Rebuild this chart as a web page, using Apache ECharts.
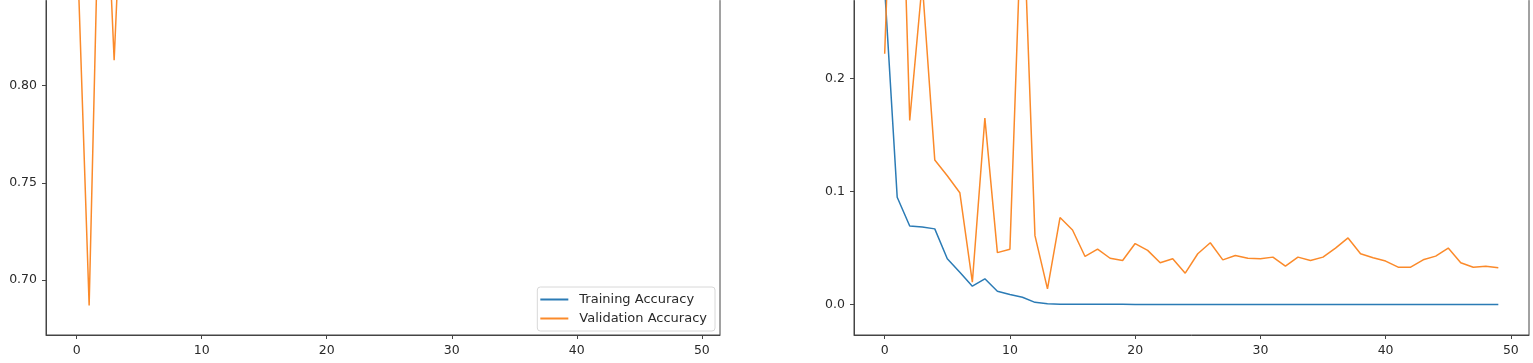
<!DOCTYPE html>
<html>
<head>
<meta charset="utf-8">
<script src="https://cdn.jsdelivr.net/npm/echarts@6/dist/echarts.min.js"></script>
<style>
html,body{margin:0;padding:0;background:#fff;overflow:hidden;width:1533px;height:363px;}
#wrap{position:relative;width:1533px;height:363px;overflow:hidden;}
#c{position:absolute;left:0;top:-335px;width:1533px;height:698px;}
</style>
</head>
<body>
<div id="wrap"><div id="c"></div></div>
<script>
// ---- data ----
const epochs = Array.from({length: 50}, (_, i) => i);
const trainAcc = [0.905, 0.968, 0.976, 0.977, 0.978, 0.986, 0.990, 0.994, 0.993, 0.996,
  0.997, 0.998, 0.999, 1.0, 1.0, 1.0, 1.0, 1.0, 1.0, 1.0,
  1.0, 1.0, 1.0, 1.0, 1.0, 1.0, 1.0, 1.0, 1.0, 1.0,
  1.0, 1.0, 1.0, 1.0, 1.0, 1.0, 1.0, 1.0, 1.0, 1.0,
  1.0, 1.0, 1.0, 1.0, 1.0, 1.0, 1.0, 1.0, 1.0, 1.0];
const valAcc = [0.880, 0.687, 0.960, 0.813, 0.960, 0.965, 0.968, 0.995, 0.945, 0.985,
  0.985, 0.905, 0.982, 0.997, 0.980, 0.981, 0.986, 0.985, 0.988, 0.988,
  0.986, 0.987, 0.989, 0.988, 0.991, 0.988, 0.986, 0.989, 0.988, 0.988,
  0.988, 0.988, 0.990, 0.988, 0.989, 0.988, 0.986, 0.985, 0.988, 0.989,
  0.990, 0.991, 0.991, 0.989, 0.989, 0.987, 0.990, 0.991, 0.991, 0.991];
const trainLoss = [0.280, 0.095, 0.0695, 0.0686, 0.067, 0.0405, 0.0287, 0.0163, 0.0228, 0.0118,
  0.0089, 0.0065, 0.0020, 0.0008, 0.0004, 0.0003, 0.0003, 0.0002, 0.0002, 0.0002,
  0.00015, 0.00013, 0.00012, 0.0001, 0.0001, 0.00009, 0.00008, 0.00007, 0.00007, 0.00006,
  0.00006, 0.00005, 0.00005, 0.00005, 0.00004, 0.00004, 0.00004, 0.00003, 0.00003, 0.00003,
  0.00003, 0.00003, 0.00002, 0.00002, 0.00002, 0.00002, 0.00002, 0.00002, 0.00002, 0.00001];
const valLoss = [0.222, 0.538, 0.163, 0.285, 0.128, 0.114, 0.099, 0.0198, 0.165, 0.046,
  0.049, 0.370, 0.061, 0.0139, 0.077, 0.066, 0.0426, 0.049, 0.041, 0.039,
  0.054, 0.048, 0.037, 0.0405, 0.0278, 0.045, 0.0547, 0.0396, 0.0435, 0.041,
  0.0405, 0.042, 0.034, 0.042, 0.039, 0.042, 0.050, 0.059, 0.045, 0.0414,
  0.0385, 0.0331, 0.0331, 0.0396, 0.0429, 0.050, 0.037, 0.033, 0.034, 0.0325];
const xTicks = [0, 10, 20, 30, 40, 50];
const accTicks = [0.70, 0.75, 0.80, 0.85, 0.90, 0.95, 1.00];
const lossTicks = [0.0, 0.1, 0.2, 0.3, 0.4, 0.5];
const seriesNames = ['Training Accuracy', 'Validation Accuracy'];

const pairs = (arr) => epochs.map((e, i) => [e, arr[i]]);
const BLUE = '#2b7bb5', ORANGE = '#fb8a2a';
const TXT = '#2a2a2a';
const font = 'DejaVu Sans';

function xAxis(gi) {
  return {
    type: 'value', gridIndex: gi, min: -2.45, max: 51.45,
    splitLine: {show: false},
    axisLine: {show: true, onZero: false, lineStyle: {color: '#444', width: 1}},
    axisTick: {show: true, length: 4, customValues: xTicks, lineStyle: {color: '#444'}},
    axisLabel: {customValues: xTicks, color: TXT, fontSize: 12.5, fontFamily: font, margin: 9}
  };
}
function yAxis(gi, min, max, ticks, dec) {
  return {
    type: 'value', gridIndex: gi, min: min, max: max,
    splitLine: {show: false},
    axisLine: {show: true, onZero: false, lineStyle: {color: '#444', width: 1}},
    axisTick: {show: true, length: 4, customValues: ticks, lineStyle: {color: '#444'}},
    axisLabel: {customValues: ticks, color: TXT, fontSize: 12.5, fontFamily: font, margin: 9,
      formatter: v => v.toFixed(dec)}
  };
}
function line(name, data, color, xi) {
  return {
    name: name, type: 'line', xAxisIndex: xi, yAxisIndex: xi,
    data: pairs(data), showSymbol: false, symbol: 'none',
    lineStyle: {color: color, width: 1.5}, itemStyle: {color: color},
    animation: false
  };
}

const chart = echarts.init(document.getElementById('c'), null, {renderer: 'canvas'});
chart.setOption({
  animation: false,
  backgroundColor: '#fff',
  grid: [
    {left: 46, width: 674, top: 1, bottom: 28, show: true, borderColor: '#444', borderWidth: 1, backgroundColor: 'transparent'},
    {left: 854, width: 675, top: 1, bottom: 28, show: true, borderColor: '#444', borderWidth: 1, backgroundColor: 'transparent'}
  ],
  xAxis: [xAxis(0), xAxis(1)],
  yAxis: [
    yAxis(0, 0.6718, 1.0156, accTicks, 2),
    yAxis(1, -0.0269, 0.565, lossTicks, 1)
  ],
  legend: {
    data: seriesNames.map(n => ({name: n, icon: 'rect'})),
    orient: 'vertical', right: 818, bottom: 32,
    itemWidth: 28, itemHeight: 2, itemGap: 6,
    padding: [6, 8, 6, 3],
    backgroundColor: '#fff', borderColor: '#d8d8d8', borderWidth: 1, borderRadius: 3,
    textStyle: {color: TXT, fontSize: 13, fontFamily: font, padding: [0, 0, 0, 6]}
  },
  series: [
    line(seriesNames[0], trainAcc, BLUE, 0),
    line(seriesNames[1], valAcc, ORANGE, 0),
    line('Training Loss', trainLoss, BLUE, 1),
    line('Validation Loss', valLoss, ORANGE, 1)
  ]
});
</script>
</body>
</html>
